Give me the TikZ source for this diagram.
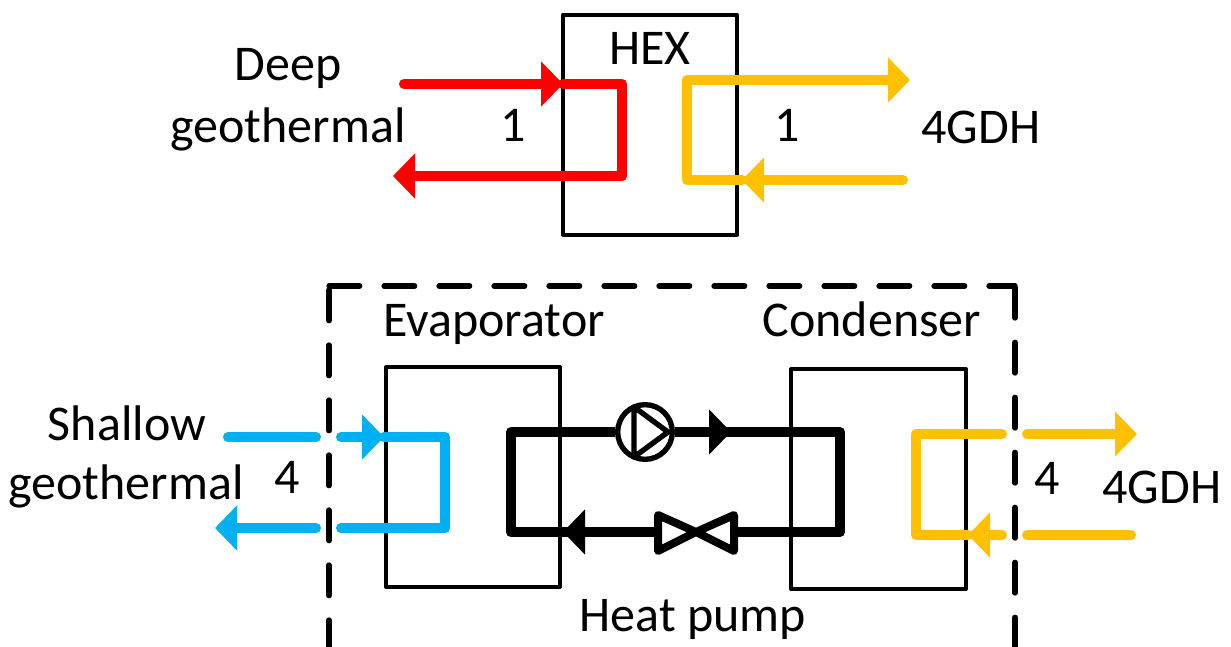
\documentclass[tikz,border=0pt]{standalone}
\usepackage{fontspec}
\setmainfont{Carlito}
\usetikzlibrary{arrows.meta}
\definecolor{cred}{RGB}{255,0,0}
\definecolor{cyel}{RGB}{255,192,0}
\definecolor{cblu}{RGB}{0,176,240}
\tikzset{
  x=0.75pt,y=-0.75pt,
  unit/.style={draw=black,line width=3pt,minimum width=127.5pt,minimum height=162pt,inner sep=0pt,line join=round},
  lab/.style={inner sep=0pt,anchor=base,font=\fontsize{37.5}{46}\selectfont},
  pipe/.style={line width=7.5pt,line cap=round,line join=round},
  hp/.style={line width=7.5pt,line join=round,draw=black},
  tip/.style={-{Triangle[length=16.5pt,width=33pt]}},
  border/.style={line width=4pt,line cap=round,dash pattern=on 23pt off 18.25pt}
}
\begin{document}
\begin{tikzpicture}
\useasboundingbox (0,0) rectangle (1231,646);
% boxes
\node[unit,minimum width=130.5pt,minimum height=165pt] (hex) at (650,124.5) {};
\node[unit,minimum width=130.5pt,minimum height=165pt] (evap) at (473,477) {};
\node[unit,minimum width=131pt,minimum height=165pt] (cond) at (878.5,479) {};
% heat pump border
\coordinate (b1) at (329,286); \coordinate (b2) at (1015,286);
\coordinate (b3) at (1015,651); \coordinate (b4) at (329,651);
\draw[border] (b1) -- (b2);
\draw[border,dash phase=-3pt] (b1) -- (b4) -- (b3);
\draw[border,dash phase=-1pt] (b2) -- (b3);
% deep geothermal
\coordinate (r1) at (404,84); \coordinate (r2) at (563,84); \coordinate (r3) at (622,84);
\coordinate (r4) at (622,176); \coordinate (r5) at (393,176);
\draw[pipe,cred] (r2) -- (r3) -- (r4) -- (412,176);
\draw[pipe,cred,tip,line cap=butt] (530,84) -- (r2);
\draw[pipe,cred] (r1) -- (542,84);
\draw[pipe,cred,tip,line cap=butt] (420,176) -- (r5);
% 4GDH upper
\coordinate (y1) at (903,180); \coordinate (y2) at (742,180); \coordinate (y3) at (687,180);
\coordinate (y4) at (687,80); \coordinate (y5) at (910,80);
\draw[pipe,cyel] (y2) -- (y3) -- (y4) -- (895,80);
\draw[pipe,cyel,tip,line cap=butt] (880,80) -- (y5);
\draw[pipe,cyel] (y1) -- (760,180);
\draw[pipe,cyel,tip,line cap=butt] (770,180) -- (y2);
% shallow
\coordinate (s1) at (228,437); \coordinate (s2) at (316,437);
\coordinate (s3) at (341,437); \coordinate (s4) at (384,437);
\coordinate (s5) at (445,437); \coordinate (s6) at (445,528);
\coordinate (s7) at (341,528); \coordinate (s8) at (316,528); \coordinate (s9) at (215,528);
\draw[pipe,cblu] (s1) -- (s2);
\draw[pipe,cblu] (s3) -- (366,437);
\draw[pipe,cblu,tip,line cap=butt] (360,437) -- (s4);
\draw[pipe,cblu] (s4) -- (s5) -- (s6) -- (s7);
\draw[pipe,cblu] (s8) -- (234,528);
\draw[pipe,cblu,tip,line cap=butt] (240,528) -- (s9);
% 4GDH lower
\coordinate (g1) at (1131,535); \coordinate (g2) at (1027,535);
\coordinate (g3) at (1002,535); \coordinate (g4) at (968,535);
\coordinate (g5) at (916,535); \coordinate (g6) at (916,434);
\coordinate (g7) at (1002,434); \coordinate (g8) at (1027,434); \coordinate (g9) at (1137,434);
\draw[pipe,cyel] (g1) -- (g2);
\draw[pipe,cyel] (g3) -- (985,535);
\draw[pipe,cyel,tip,line cap=butt] (992,535) -- (g4);
\draw[pipe,cyel] (g4) -- (g5) -- (g6) -- (g7);
\draw[pipe,cyel] (g8) -- (1118,434);
\draw[pipe,cyel,tip,line cap=butt] (1112,434) -- (g9);
% heat pump circuit
\node[circle,draw=black,line width=4pt,fill=white,minimum size=41pt,inner sep=0pt] (pump) at (645,432) {};
\coordinate (c1) at (731,432); \coordinate (c2) at (840,432); \coordinate (c3) at (840,532);
\coordinate (c4) at (563,532); \coordinate (c5) at (511,532); \coordinate (c6) at (511,432);
\draw[hp] (pump.east) -- (715,432);
\draw[hp,tip,line cap=butt] (708,432) -- (c1);
\draw[hp] (722,432) -- (c2) -- (c3) -- (735,532);
\draw[hp] (657,532) -- (580,532);
\draw[hp,tip,line cap=butt] (586,532) -- (c4);
\draw[hp] (572,532) -- (c5) -- (c6) -- (pump.west);
\draw[line width=4pt,line join=round] (634,407) -- (668,432) -- (634,457) -- cycle;
\draw[line width=6pt,line join=round,fill=white] (658,515) -- (696,532) -- (734,515) -- (734,551) -- (696,532) -- (658,551) -- cycle;
% labels
\node[lab] (t1) at (288,80) {Deep};
\node[lab] (t2) at (288,142) {geothermal};
\node[lab] (t3) at (513,141) {1};
\node[lab] (t4) at (650,64) {HEX};
\node[lab] (t5) at (787,141) {1};
\node[lab] (t6) at (981,143) {4GDH};
\node[lab] (t7) at (494,336) {Evaporator};
\node[lab] (t8) at (872,336) {Condenser};
\node[lab] (t9) at (127,440) {Shallow};
\node[lab] (t10) at (126,499) {geothermal};
\node[lab] (t11) at (287,493) {4};
\node[lab] (t12) at (1047,494) {4};
\node[lab] (t13) at (1162,503) {4GDH};
\node[lab] (t14) at (693,631) {Heat pump};
\end{tikzpicture}
\end{document}
